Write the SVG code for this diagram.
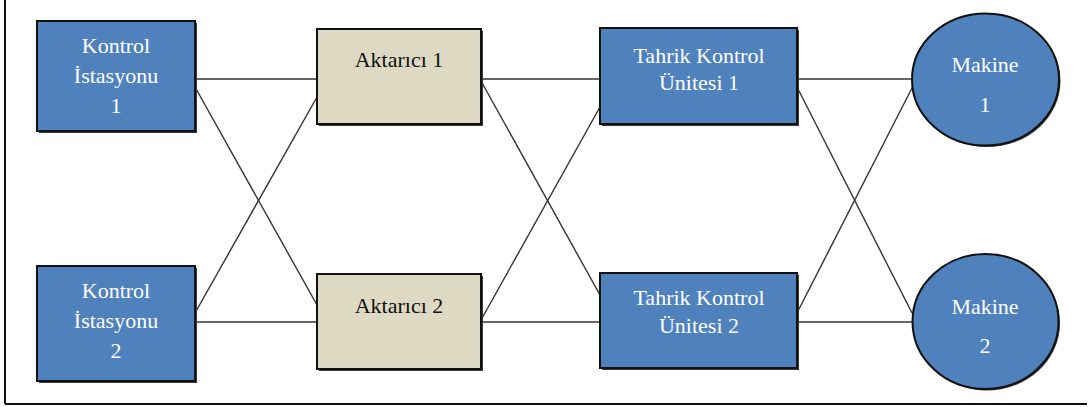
<svg xmlns="http://www.w3.org/2000/svg" width="1089" height="407" viewBox="0 0 1089 407">
  <style>
    .box { fill: #4F81BD; stroke: #111; stroke-width: 2; }
    .akt { fill: #DDD9C3; stroke: #111; stroke-width: 2; }
    .shadow { fill: #3a3a3a; }
    .conn { stroke: #333; stroke-width: 1.4; fill: none; }
    .wt { font-family: 'Liberation Serif', 'DejaVu Serif', serif; font-size: 22px; fill: #ffffff; text-anchor: middle; }
    .bt { font-family: 'Liberation Serif', 'DejaVu Serif', serif; font-size: 22px; fill: #111; text-anchor: middle; }
  </style>
  <rect x="0" y="0" width="1089" height="407" fill="#ffffff"/>
  <g id="frame" stroke="#111" stroke-width="2" fill="none">
    <line x1="5" y1="0" x2="5" y2="404"/>
    <line x1="5" y1="404" x2="1087" y2="404"/>
  </g>
  <g id="connectors">
    <line class="conn" x1="195" y1="79" x2="317" y2="79"/>
    <line class="conn" x1="195" y1="87" x2="317" y2="305"/>
    <line class="conn" x1="195" y1="313" x2="317" y2="97"/>
    <line class="conn" x1="195" y1="322" x2="317" y2="322"/>
    <line class="conn" x1="481" y1="79" x2="600" y2="79"/>
    <line class="conn" x1="481" y1="81" x2="600" y2="295"/>
    <line class="conn" x1="481" y1="320" x2="600" y2="107"/>
    <line class="conn" x1="481" y1="322" x2="600" y2="322"/>
    <line class="conn" x1="797" y1="79" x2="912" y2="79"/>
    <line class="conn" x1="797" y1="87" x2="912" y2="313"/>
    <line class="conn" x1="797" y1="313" x2="912" y2="88"/>
    <line class="conn" x1="797" y1="322" x2="912" y2="322"/>
  </g>
  <g id="kontrol1">
    <rect class="shadow" x="39" y="23" width="158" height="110"/>
    <rect class="box" x="37" y="21" width="158" height="110"/>
    <text class="wt" x="116" y="53">Kontrol</text>
    <text class="wt" x="116" y="83">İstasyonu</text>
    <text class="wt" x="116" y="113">1</text>
  </g>
  <g id="kontrol2">
    <rect class="shadow" x="39" y="268" width="158" height="115"/>
    <rect class="box" x="37" y="266" width="158" height="115"/>
    <text class="wt" x="116" y="298">Kontrol</text>
    <text class="wt" x="116" y="328">İstasyonu</text>
    <text class="wt" x="116" y="358">2</text>
  </g>
  <g id="aktarici1">
    <rect class="shadow" x="319" y="31" width="164" height="95"/>
    <rect class="akt" x="317" y="29" width="164" height="95"/>
    <text class="bt" x="399" y="67">Aktarıcı 1</text>
  </g>
  <g id="aktarici2">
    <rect class="shadow" x="319" y="276" width="164" height="95"/>
    <rect class="akt" x="317" y="274" width="164" height="95"/>
    <text class="bt" x="399" y="313">Aktarıcı 2</text>
  </g>
  <g id="tahrik1">
    <rect class="shadow" x="602" y="30" width="197" height="96"/>
    <rect class="box" x="600" y="28" width="197" height="96"/>
    <text class="wt" x="699" y="63">Tahrik Kontrol</text>
    <text class="wt" x="699" y="90">Ünitesi 1</text>
  </g>
  <g id="tahrik2">
    <rect class="shadow" x="602" y="275" width="197" height="95"/>
    <rect class="box" x="600" y="273" width="197" height="95"/>
    <text class="wt" x="699" y="305">Tahrik Kontrol</text>
    <text class="wt" x="699" y="333">Ünitesi 2</text>
  </g>
  <g id="makine1">
    <ellipse cx="987" cy="81" rx="73.5" ry="66" fill="#3a3a3a"/>
    <ellipse class="box" cx="985.5" cy="79.5" rx="73.5" ry="66"/>
    <text class="wt" x="985" y="72">Makine</text>
    <text class="wt" x="985" y="112">1</text>
  </g>
  <g id="makine2">
    <ellipse cx="987" cy="323" rx="73" ry="67.5" fill="#3a3a3a"/>
    <ellipse class="box" cx="985.5" cy="321.5" rx="73" ry="67.5"/>
    <text class="wt" x="985" y="314">Makine</text>
    <text class="wt" x="985" y="353">2</text>
  </g>
</svg>
